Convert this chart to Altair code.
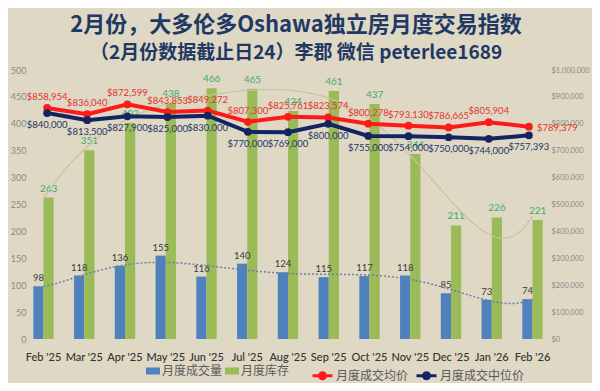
import altair as alt
import pandas as pd

months = ["Feb '25", "Mar '25", "Apr '25", "May '25", "Jun '25", "Jul '25", "Aug '25",
          "Sep '25", "Oct '25", "Nov '25", "Dec '25", "Jan '26", "Feb '26"]
sales = [98, 118, 136, 155, 116, 140, 124, 115, 117, 118, 85, 73, 74]
inventory = [263, 351, 402, 438, 466, 465, 424, 461, 437, 344, 211, 226, 221]
avg_price = [858954, 836040, 872599, 843853, 849272, 807300, 825761, 823574,
             800278, 793130, 786665, 805904, 789379]
median_price = [840000, 813500, 827900, 825000, 830000, 770000, 769000, 800000,
                755000, 754000, 750000, 744000, 757393]

S_SALES = "月度成交量"
S_INV = "月度库存"
S_AVG = "月度成交均价"
S_MED = "月度成交中位价"

idx = list(range(len(months)))
bar_df = pd.DataFrame({
    "month": months * 2,
    "i": idx * 2,
    "series": [S_SALES] * len(months) + [S_INV] * len(months),
    "value": sales + inventory,
})
price_df = pd.DataFrame({
    "month": months * 2,
    "i": idx * 2,
    "series": [S_AVG] * len(months) + [S_MED] * len(months),
    "price": avg_price + median_price,
})

BG = "#ded8c5"
BLUE = "#4f81bd"
GREEN = "#9bbb59"
RED = "#ff1a1a"
NAVY = "#142462"
NUM_FONT = "Lato"
CJK = "Noto Sans CJK SC"

W, H = 522, 269
P_IN, P_OUT = 0.5, 0.155
n = len(months)
trend_lo = -(P_OUT + (1 - P_IN) / 2)
trend_hi = (n - 1) + P_OUT + (1 - P_IN) / 2

x_scale = alt.Scale(domain=months, paddingInner=P_IN, paddingOuter=P_OUT)
x_axis = alt.X("month:N", scale=x_scale, title=None,
               axis=alt.Axis(labelAngle=0, domain=False, ticks=False, labelPadding=12,
                             labelFontSize=11, labelColor="#333333", labelFont=NUM_FONT,
                             labelFontWeight=500))
x_noaxis = alt.X("month:N", scale=x_scale, title=None, axis=None)
x_off = alt.XOffset("series:N", scale=alt.Scale(domain=[S_SALES, S_INV], paddingInner=0, paddingOuter=0))

y_count = alt.Y("value:Q", scale=alt.Scale(domain=[0, 500]), title=None,
                axis=alt.Axis(orient="left", values=list(range(0, 501, 50)), grid=False,
                              domain=False, ticks=False, labelPadding=1, labelFontSize=9,
                              labelColor="#8a8a8a", labelFont=NUM_FONT))
y_count_noaxis = alt.Y("value:Q", scale=alt.Scale(domain=[0, 500]), title=None, axis=None)

price_axis = alt.Axis(orient="right", values=list(range(0, 1000001, 100000)),
                      format="$,.0f", grid=False, domain=False, ticks=False,
                      labelPadding=2, labelFontSize=7.5, labelColor="#8a8a8a",
                      labelFont=NUM_FONT)
y_price = alt.Y("price:Q", scale=alt.Scale(domain=[0, 1000000]), title=None, axis=price_axis)

bars = alt.Chart(bar_df).mark_bar().encode(
    x=x_axis,
    xOffset=x_off,
    y=y_count,
    color=alt.Color("series:N", scale=alt.Scale(domain=[S_SALES, S_INV], range=[BLUE, GREEN]),
                    legend=alt.Legend(title=None, orient="none", legendX=119, legendY=294,
                                      direction="horizontal", symbolType="M-1,-0.5H1V0.5H-1Z",
                                      symbolSize=196, symbolStrokeWidth=0,
                                      labelFont=CJK, labelFontSize=12, labelColor="#5a5a5a",
                                      columnPadding=2, labelOffset=2)),
)
sales_text = alt.Chart(bar_df).transform_filter(alt.datum.series == S_SALES).mark_text(
    dy=-8, fontSize=9.5, color="#3a3a3a", font=NUM_FONT
).encode(x=x_axis, xOffset=x_off, y=y_count, text="value:Q")
inv_text = alt.Chart(bar_df).transform_filter(alt.datum.series == S_INV).mark_text(
    dy=-9, fontSize=10, color="#3fae68", font=NUM_FONT
).encode(x=x_axis, xOffset=x_off, y=y_count, text="value:Q")

bars_layer = alt.layer(bars, sales_text, inv_text)

trend_x = alt.X("i:Q", scale=alt.Scale(domain=[trend_lo, trend_hi], nice=False, zero=False),
                axis=None, title=None)
inv_trend = alt.Chart(bar_df).transform_filter(alt.datum.series == S_INV).transform_regression(
    "i", "value", method="poly", order=6
).mark_line(color="#c9c39f", strokeWidth=1.2).encode(x=trend_x, y=y_count_noaxis)
sales_trend = alt.Chart(bar_df).transform_filter(alt.datum.series == S_SALES).transform_regression(
    "i", "value", method="poly", order=6
).mark_line(color="#6a7fa3", strokeWidth=1.5, strokeDash=[2, 2]).encode(x=trend_x, y=y_count_noaxis)
trend_layer = alt.layer(inv_trend, sales_trend)

price_color = alt.Scale(domain=[S_AVG, S_MED], range=[RED, NAVY])
lines = alt.Chart(price_df).mark_line(strokeWidth=4).encode(
    x=x_noaxis, y=y_price,
    color=alt.Color("series:N", scale=price_color,
                    legend=alt.Legend(title=None, orient="none", legendX=284, legendY=294,
                                      direction="horizontal",
                                      symbolType="M-1,0L1,0M-0.3,0a0.3,0.3 0 1,0 0.6,0a0.3,0.3 0 1,0 -0.6,0",
                                      symbolSize=400, symbolStrokeWidth=3,
                                      labelFont=CJK, labelFontSize=12, labelColor="#5a5a5a",
                                      columnPadding=1, labelOffset=2)),
)
points = alt.Chart(price_df).mark_circle(size=60, opacity=1).encode(
    x=x_noaxis, y=y_price,
    color=alt.Color("series:N", scale=price_color, legend=None),
)
avg_text = alt.Chart(price_df).transform_filter(
    (alt.datum.series == S_AVG) & (alt.datum.month != months[-1])
).mark_text(dy=-11, fontSize=9.5, color="#e8322c", font=NUM_FONT).encode(
    x=x_noaxis, y=y_price, text=alt.Text("price:Q", format="$,.0f"))
avg_last = alt.Chart(price_df).transform_filter(
    (alt.datum.series == S_AVG) & (alt.datum.month == months[-1])
).mark_text(dx=8, dy=1, align="left", fontSize=9.5, color="#e8322c", font=NUM_FONT).encode(
    x=x_noaxis, y=y_price, text=alt.Text("price:Q", format="$,.0f"))
med_text = alt.Chart(price_df).transform_filter(alt.datum.series == S_MED).mark_text(
    dy=12, fontSize=9.5, color="#263566", font=NUM_FONT
).encode(x=x_noaxis, y=y_price, text=alt.Text("price:Q", format="$,.0f"))

price_layer = alt.layer(lines, points, avg_text, avg_last, med_text)

chart = alt.layer(bars_layer, trend_layer, price_layer).resolve_scale(
    x="independent", y="independent", color="independent"
).properties(
    width=W, height=H,
    background=BG,
    autosize=alt.AutoSizeParams(type="none"),
    padding={"left": 19, "right": 43, "top": 62, "bottom": 44},
    title=alt.TitleParams(
        text="2月份，大多伦多Oshawa独立房月度交易指数",
        subtitle="（2月份数据截止日24）李郡 微信 peterlee1689",
        font=CJK, subtitleFont=CJK, fontSize=22, subtitleFontSize=19,
        fontWeight="bold", subtitleFontWeight="bold",
        color="#1f3864", subtitleColor="#1f3864",
        anchor="middle", offset=2, subtitlePadding=7, dx=8,
    ),
).configure_view(stroke=None)

chart.save("out.html", embed_options={"renderer": "svg", "actions": False})
